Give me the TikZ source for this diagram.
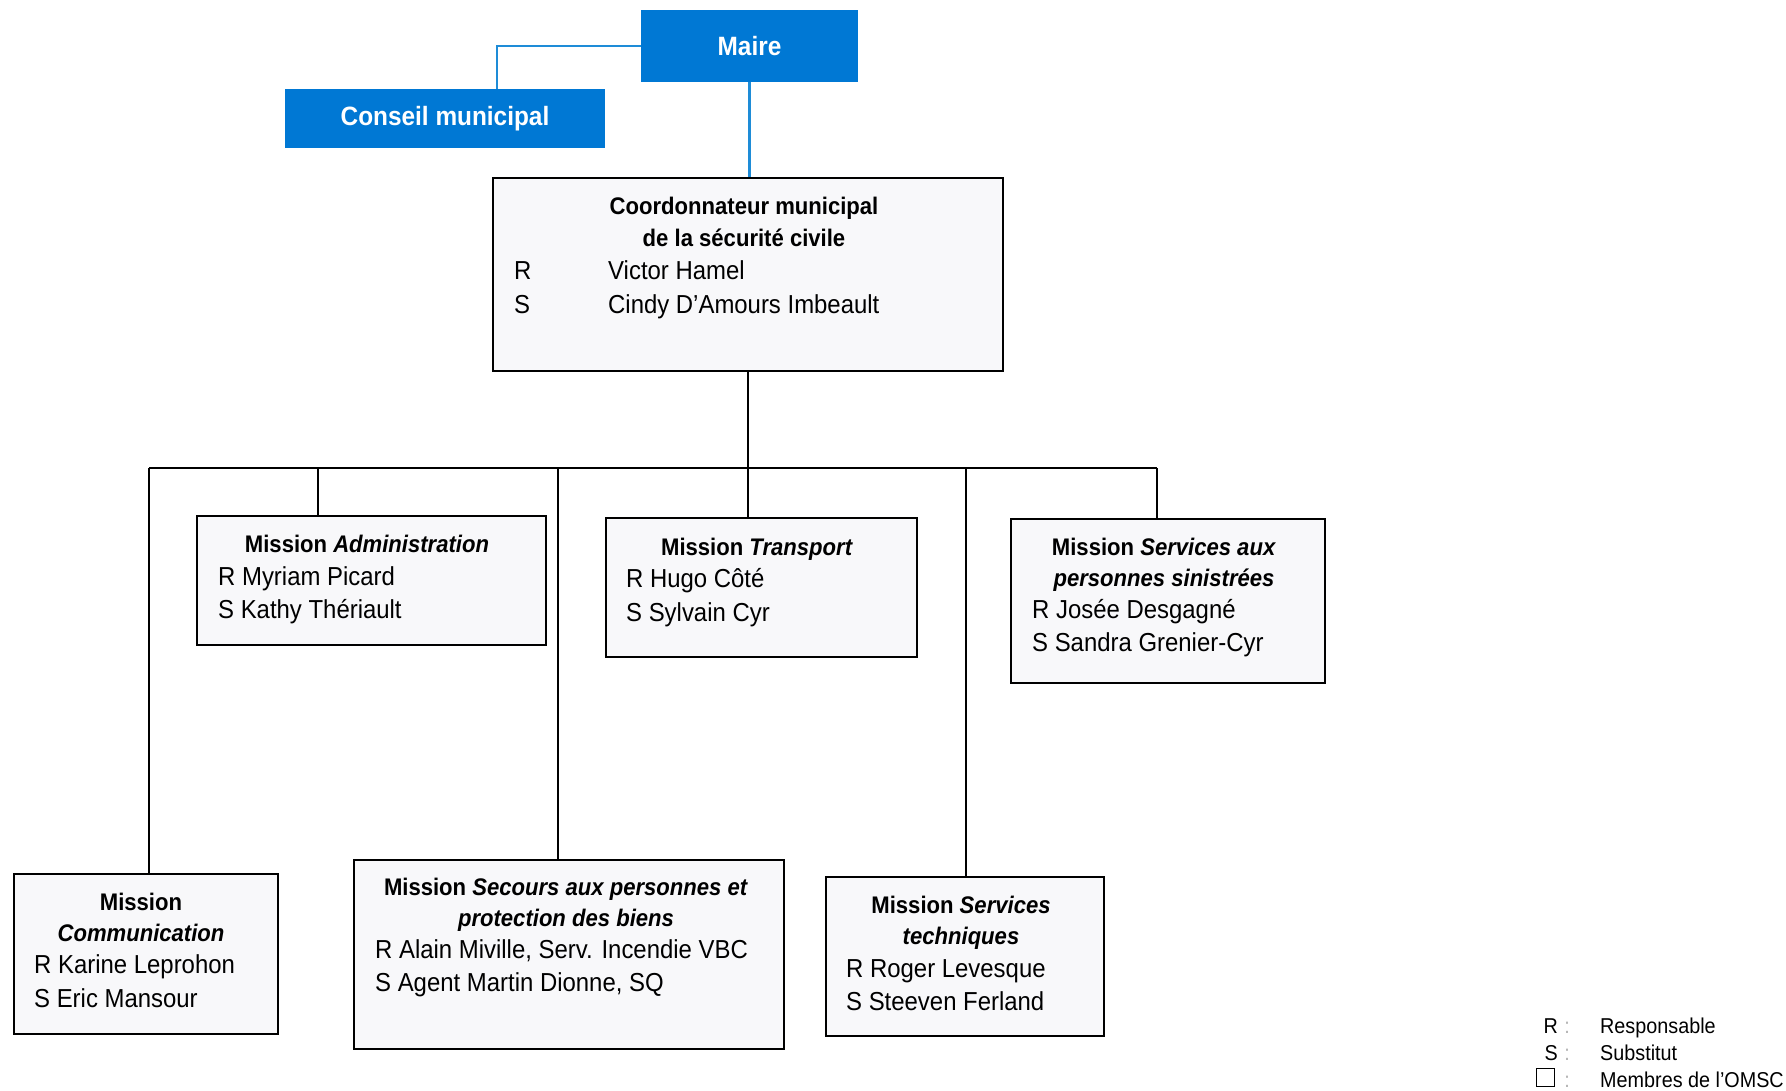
\documentclass[tikz,border=0pt]{standalone}
\usepackage{fontspec}
\setmainfont{Liberation Sans}[FakeStretch=0.92]
\usepackage{tikz}
\definecolor{mairebleu}{RGB}{0,120,212}
\definecolor{lienbleu}{RGB}{30,140,215}
\definecolor{fondgris}{RGB}{248,248,250}
\tikzset{
  bleu/.style={fill=mairebleu, text=white, inner sep=0pt,
    font=\fontsize{26.5}{30}\selectfont\bfseries},
  cadre/.style={draw, line width=2pt, fill=fondgris, inner sep=0pt},
  txt/.style={inner sep=0pt, font=\fontsize{26}{33}\selectfont},
  titre/.style={inner sep=0pt, font=\fontsize{24}{33}\selectfont\bfseries},
  legende/.style={inner sep=0pt, font=\fontsize{21.5}{24}\selectfont},
  lien/.style={line width=2.7pt},
}

\begin{document}
\begin{tikzpicture}[x=1pt,y=-1pt]
\useasboundingbox (0,0) rectangle (1786,1090);

% direction
\node[bleu, minimum width=217, minimum height=72] (maire) at (749.5,46) {Maire};
\node[bleu, minimum width=320, minimum height=59] (conseil) at (445,118.5) {Conseil municipal};
\node[cadre, minimum width=510, minimum height=193] (coord) at (748,274.5) {};

% missions
\node[cadre, minimum width=349, minimum height=129] (adm) at (371.5,580.5) {};
\node[cadre, minimum width=311, minimum height=139] (transp) at (761.5,587.5) {};
\node[cadre, minimum width=314, minimum height=164] (sinis) at (1168,601) {};
\node[cadre, minimum width=264, minimum height=160] (comm) at (146,954) {};
\node[cadre, minimum width=430, minimum height=189] (secours) at (569,954.5) {};
\node[cadre, minimum width=278, minimum height=159] (tech) at (965,956.5) {};

% liens
\draw[lien, lienbleu] (maire.west) -| ([xshift=52]conseil.north);
\draw[lien, lienbleu] (maire.south) -- (maire.south |- coord.north);

\coordinate (busG) at (149,468);
\coordinate (busD) at (1157,468);
\coordinate (t1) at (318,468);
\coordinate (t2) at (558,468);
\coordinate (t3) at (748,468);
\coordinate (t4) at (966,468);
\draw[lien] (coord.south) -- (coord.south |- busG);
\draw[lien] (busG) -- (busD);
\draw[lien] (busG) -- (busG |- comm.north);
\draw[lien] (t1) -- (t1 |- adm.north);
\draw[lien] (t2) -- (t2 |- secours.north);
\draw[lien] (t3) -- (t3 |- transp.north);
\draw[lien] (t4) -- (t4 |- tech.north);
\draw[lien] (busD) -- (busD |- sinis.north);

% textes
\node[titre, anchor=base] (coordT1) at (744,214) {Coordonnateur municipal};
\node[titre, anchor=base] (coordT2) at (744,246) {de la sécurité civile};
\node[txt, anchor=base west] (coordR) at (514,279) {R};
\node[txt, anchor=base west] (coordRn) at (608,279) {Victor Hamel};
\node[txt, anchor=base west] (coordS) at (514,313) {S};
\node[txt, anchor=base west] (coordSn) at (608,313) {Cindy D’Amours Imbeault};

\node[titre, anchor=base] (admT) at (367,552) {Mission \textit{Administration}};
\node[txt, anchor=base west] (admR) at (218,585) {R Myriam Picard};
\node[txt, anchor=base west] (admS) at (218,618) {S Kathy Thériault};

\node[titre, anchor=base] (transpT) at (757,555) {Mission \textit{Transport}};
\node[txt, anchor=base west] (transpR) at (626,587) {R Hugo Côté};
\node[txt, anchor=base west] (transpS) at (626,621) {S Sylvain Cyr};

\node[titre, anchor=base] (sinisT1) at (1164,555) {Mission \textit{Services aux}};
\node[titre, anchor=base] (sinisT2) at (1164,586) {\textit{personnes sinistrées}};
\node[txt, anchor=base west] (sinisR) at (1032,618) {R Josée Desgagné};
\node[txt, anchor=base west] (sinisS) at (1032,651) {S Sandra Grenier-Cyr};

\node[titre, anchor=base] (commT1) at (141,910) {Mission};
\node[titre, anchor=base] (commT2) at (141,941) {\textit{Communication}};
\node[txt, anchor=base west] (commR) at (34,973) {R Karine Leprohon};
\node[txt, anchor=base west] (commS) at (34,1007) {S Eric Mansour};

\node[titre, anchor=base] (secoursT1) at (566,895) {Mission \textit{Secours aux personnes et}};
\node[titre, anchor=base] (secoursT2) at (566,926) {\textit{protection des biens}};
\node[txt, anchor=base west] (secoursR) at (375,958) {R Alain Miville, Serv. Incendie VBC};
\node[txt, anchor=base west] (secoursS) at (375,991) {S Agent Martin Dionne, SQ};

\node[titre, anchor=base] (techT1) at (961,913) {Mission \textit{Services}};
\node[titre, anchor=base] (techT2) at (961,944) {\textit{techniques}};
\node[txt, anchor=base west] (techR) at (846,977) {R Roger Levesque};
\node[txt, anchor=base west] (techS) at (846,1010) {S Steeven Ferland};

% legende
\node[legende, anchor=base east] (legR) at (1558,1033) {R};
\node[legende, anchor=base east] (legS) at (1558,1060) {S};
\node[draw, line width=1.5pt, minimum size=18, inner sep=0pt] (legB) at (1545.5,1077.5) {};
\node[legende, anchor=base, text=black!30] (legRp) at (1567,1033) {:};
\node[legende, anchor=base, text=black!30] (legSp) at (1567,1060) {:};
\node[legende, anchor=base, text=black!30] (legBp) at (1567,1087) {:};
\node[legende, anchor=base west] (legRt) at (1600,1033) {Responsable};
\node[legende, anchor=base west] (legSt) at (1600,1060) {Substitut};
\node[legende, anchor=base west] (legBt) at (1600,1087) {Membres de l’OMSC};

\end{tikzpicture}
\end{document}
